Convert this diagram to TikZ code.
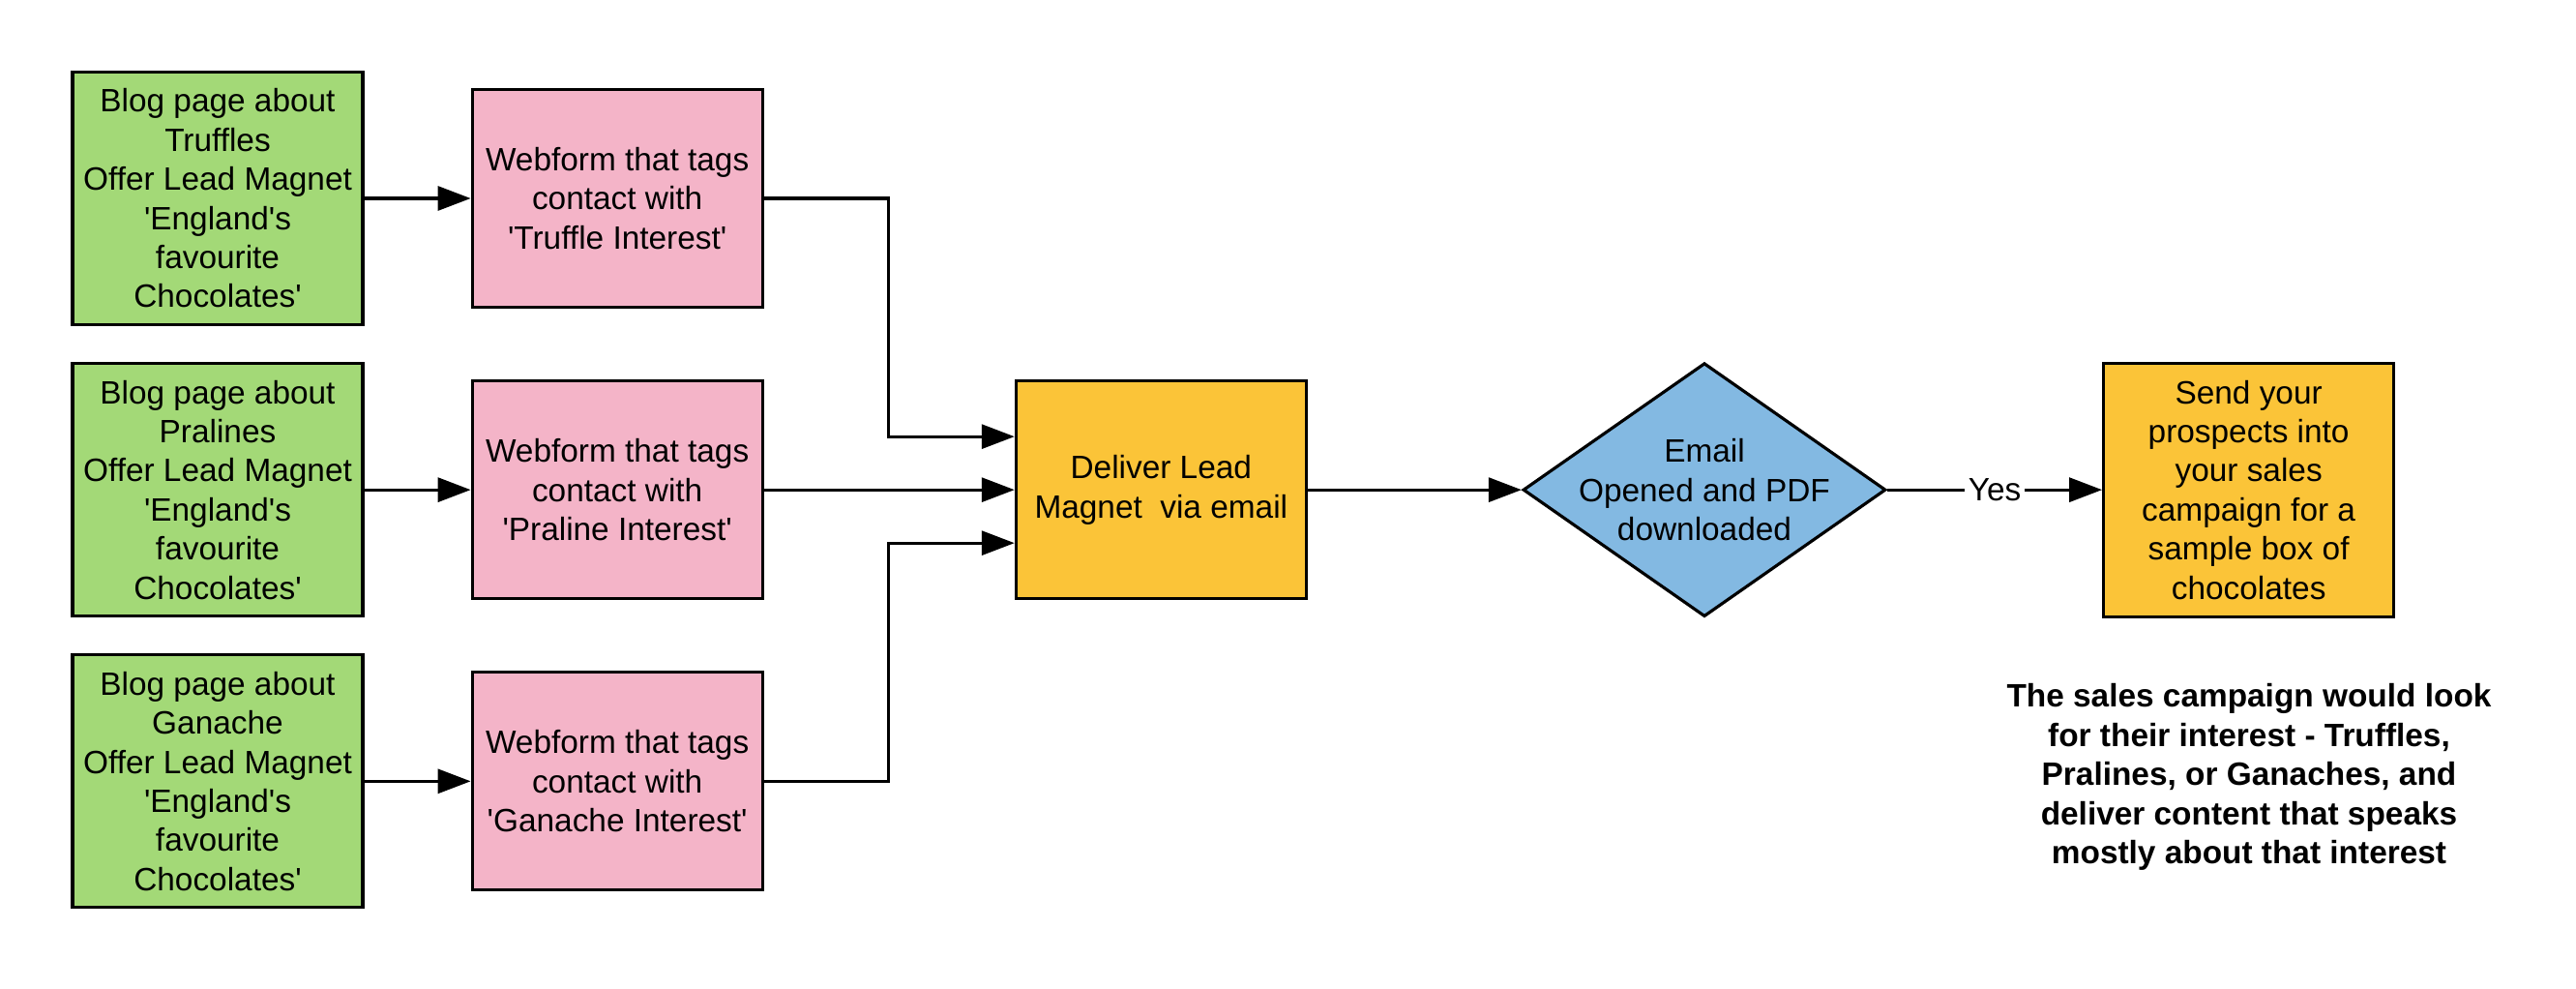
\documentclass[tikz,border=0pt]{standalone}
\usepackage{fontspec}
\setmainfont{Liberation Sans}
\usepackage{tikz}
\usetikzlibrary{positioning, shapes.geometric, arrows.meta}

\definecolor{blogcol}{RGB}{163,217,119}
\definecolor{formcol}{RGB}{244,180,200}
\definecolor{mailcol}{RGB}{251,196,56}
\definecolor{askcol}{RGB}{131,185,226}
\newcommand{\sq}{\textquotesingle}

\begin{document}
\begin{tikzpicture}[
  font=\fontsize{9.5pt}{11.5pt}\selectfont,
  box/.style={draw, line width=0.9pt, align=center, inner sep=1pt},
  blog/.style={box, fill=blogcol, minimum width=3cm, minimum height=2.61cm},
  form/.style={box, fill=formcol, minimum width=3cm, minimum height=2.25cm},
  mail/.style={box, fill=mailcol, minimum width=3cm},
  ask/.style={box, diamond, fill=askcol, aspect=1.43, minimum width=3.75cm, minimum height=2.62cm, inner sep=-6mm},
  arr/.style={line width=0.9pt, -{Triangle[length=3.4mm, width=2.5mm]}}]
\useasboundingbox (0,0) rectangle (26.63,-10.22);

\node[blog] (B1) at (2.25,-2.05) {Blog page about\\Truffles\\Offer Lead Magnet\\\sq England\sq s\\favourite\\Chocolates\sq};
\node[blog, below = 0.37cm of B1] (B2) {Blog page about\\Pralines\\Offer Lead Magnet\\\sq England\sq s\\favourite\\Chocolates\sq};
\node[blog, below = 0.37cm of B2] (B3) {Blog page about\\Ganache\\Offer Lead Magnet\\\sq England\sq s\\favourite\\Chocolates\sq};

\node[form, right = 1.10cm of B1] (W1) {Webform that tags\\contact with\\\sq Truffle Interest\sq};
\node[form, right = 1.10cm of B2] (W2) {Webform that tags\\contact with\\\sq Praline Interest\sq};
\node[form, right = 1.10cm of B3] (W3) {Webform that tags\\contact with\\\sq Ganache Interest\sq};

\node[mail, minimum height=2.25cm, right = 2.59cm of W2] (D) {Deliver Lead\\Magnet\ \ via email};
\node[ask, right = 2.21cm of D] (E) {Email\\Opened and PDF\\downloaded};
\node[mail, minimum height=2.62cm, right = 2.22cm of E] (S) {Send your\\prospects into\\your sales\\campaign for a\\sample box of\\chocolates};

\node[align=center, font=\fontsize{9.5pt}{11.5pt}\selectfont\bfseries] (N) at (23.25,-8.03)
  {The sales campaign would look\\for their interest - Truffles,\\Pralines, or Ganaches, and\\deliver content that speaks\\mostly about that interest};

\draw[arr] (B1) -- (W1);
\draw[arr] (B2) -- (W2);
\draw[arr] (B3) -- (W3);
\draw[arr] (W1.east) -- ++(1.29,0) |- ([yshift=5.5mm]D.west);
\draw[arr] (W2) -- (D);
\draw[arr] (W3.east) -- ++(1.29,0) |- ([yshift=-5.5mm]D.west);
\draw[arr] (D) -- (E);
\draw[arr] (E) -- node[fill=white, inner sep=1pt] {Yes} (S);
\end{tikzpicture}
\end{document}
